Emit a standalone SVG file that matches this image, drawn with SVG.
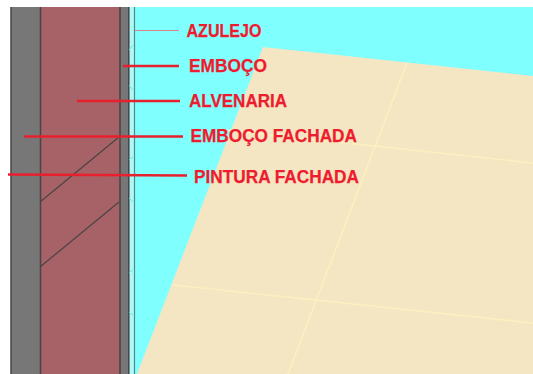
<svg xmlns="http://www.w3.org/2000/svg" width="533" height="374" viewBox="0 0 533 374">
<style>
text{font-family:"Liberation Sans",Arial,sans-serif;font-weight:700;font-size:18px;fill:#ed1c2e;stroke:#ed1c2e;stroke-width:.25}
.grid{stroke:#faf0c0;stroke-width:1.600;fill:none}
.wall{stroke:#4a4444;fill:none}
.lead{stroke:#e8202e;stroke-width:2.400;fill:none}
.tick{stroke:#5fe8e8;stroke-width:1;fill:none}
</style>
<rect width="533" height="374" fill="#fff"/>
<g id="background">
<rect x="10" y="7" width="523" height="367" fill="#80ffff"/>
<polygon points="263,47 533,76 533,374 137,374" fill="#f5e6c3"/>
<path class="grid" d="M407,63 L288,374 M220,129.500 L533,163 M173,285 L533,323"/>
</g>
<g id="wall">
<rect x="10" y="7" width="2" height="367" fill="#fff"/>
<rect x="11" y="7" width="29" height="367" fill="#777777"/>
<rect x="40" y="7" width="80" height="367" fill="#a66267"/>
<rect x="120" y="7" width="9" height="367" fill="#777777"/>
<rect x="129" y="7" width="6" height="367" fill="#b0f8f8"/>
<path class="wall" stroke-width="1.500" d="M11,7 V374 M40.500,7 V374 M120,7 V374 M128.800,7 V374"/>
<path stroke="#4f8a8a" stroke-width="1.200" fill="none" d="M134.500,7 V374"/>
<path class="wall" stroke-width="1.200" d="M119,137 L40,202 M119,202 L40,267"/>
<path class="tick" d="M129,50 L133,45 M129,85 L133,90 M129,160 L133,157 M129,198 L133,202 M129,273 L133,270 M129,312 L133,315"/>
</g>
<g id="connectors">
<path d="M135,30.500 H179" stroke="#d9838a" stroke-width="1" fill="none"/>
<path class="lead" d="M123,66 H179"/>
<path class="lead" d="M77,101 H180"/>
<path class="lead" d="M24,136.500 H183"/>
<path class="lead" d="M8,174.500 L98,175 L187,175.500"/>
</g>
<g id="azulejo"><text x="186.500" y="37" textLength="75" lengthAdjust="spacingAndGlyphs">AZULEJO</text></g>
<g id="emboco"><text x="189" y="72" textLength="78" lengthAdjust="spacingAndGlyphs">EMBOÇO</text></g>
<g id="alvenaria"><text x="189" y="107" textLength="98" lengthAdjust="spacingAndGlyphs">ALVENARIA</text></g>
<g id="emboco-fachada"><text x="190.500" y="142" textLength="166.500" lengthAdjust="spacingAndGlyphs">EMBOÇO FACHADA</text></g>
<g id="pintura-fachada"><text x="194" y="183" textLength="165" lengthAdjust="spacingAndGlyphs">PINTURA FACHADA</text></g>
</svg>
